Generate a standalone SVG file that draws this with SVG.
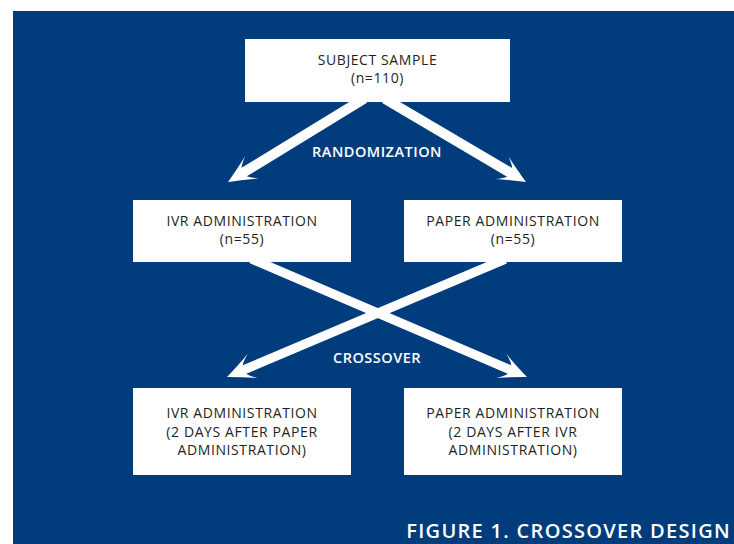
<svg xmlns="http://www.w3.org/2000/svg" width="734" height="544" viewBox="0 0 734 544">
<style>
.bg{fill:#013d7c}
.box{fill:#ffffff}
.t{font-family:"Open Sans","Liberation Sans",sans-serif;font-size:14px;fill:#231f20;text-anchor:middle;letter-spacing:0.6px}
.lbl{font-family:"Open Sans","Liberation Sans",sans-serif;font-size:14.5px;font-weight:600;fill:#ffffff;text-anchor:middle;letter-spacing:0.5px}
.cap{font-family:"Open Sans","Liberation Sans",sans-serif;font-size:20px;font-weight:600;fill:#ffffff;text-anchor:end;letter-spacing:1.3px}
.arr{fill:#ffffff}
</style>
<rect x="0" y="0" width="734" height="544" fill="#ffffff"/>
<rect class="bg" x="13" y="11" width="721" height="533"/>
<g id="connectors">
  <path class="arr" transform="translate(228,182) rotate(148.52)" d="M0,0 Q-12,-5 -28,-13 Q-21,-8 -19,-5 L-160,-5 L-160,5 L-19,5 Q-21,8 -28,13 Q-12,5 0,0 Z"/>
  <path class="arr" transform="translate(526,182) rotate(30.52)" d="M0,0 Q-12,-5 -28,-13 Q-21,-8 -19,-5 L-164,-5 L-164,5 L-19,5 Q-21,8 -28,13 Q-12,5 0,0 Z"/>
  <path class="arr" transform="translate(527,377) rotate(23.19)" d="M0,0 Q-12,-5 -28,-13 Q-21,-8 -19,-4.6 L-300,-4.6 L-300,4.6 L-19,4.6 Q-21,8 -28,13 Q-12,5 0,0 Z"/>
  <path class="arr" transform="translate(227,377) rotate(157.04)" d="M0,0 Q-12,-5 -28,-13 Q-21,-8 -19,-4.6 L-302,-4.6 L-302,4.6 L-19,4.6 Q-21,8 -28,13 Q-12,5 0,0 Z"/>
  <text class="lbl" x="377" y="157">RANDOMIZATION</text>
  <text class="lbl" x="377" y="363">CROSSOVER</text>
</g>
<g id="subject-sample">
  <rect class="box" x="245" y="39" width="265" height="63"/>
  <text class="t" x="377.5" y="65">SUBJECT SAMPLE</text>
  <text class="t" x="377.5" y="83">(n=110)</text>
</g>
<g id="ivr-1">
  <rect class="box" x="133" y="200" width="218" height="62"/>
  <text class="t" x="242" y="226">IVR ADMINISTRATION</text>
  <text class="t" x="242" y="244">(n=55)</text>
</g>
<g id="paper-1">
  <rect class="box" x="404" y="200" width="218" height="62"/>
  <text class="t" x="513" y="226">PAPER ADMINISTRATION</text>
  <text class="t" x="513" y="244">(n=55)</text>
</g>
<g id="ivr-2">
  <rect class="box" x="133" y="388" width="218" height="87"/>
  <text class="t" x="242" y="418">IVR ADMINISTRATION</text>
  <text class="t" x="242" y="436.5">(2 DAYS AFTER PAPER</text>
  <text class="t" x="242" y="455">ADMINISTRATION)</text>
</g>
<g id="paper-2">
  <rect class="box" x="404" y="388" width="218" height="87"/>
  <text class="t" x="513" y="418">PAPER ADMINISTRATION</text>
  <text class="t" x="513" y="436.5">(2 DAYS AFTER IVR</text>
  <text class="t" x="513" y="455">ADMINISTRATION)</text>
</g>
<text class="cap" x="731" y="538">FIGURE 1. CROSSOVER DESIGN</text>
</svg>
